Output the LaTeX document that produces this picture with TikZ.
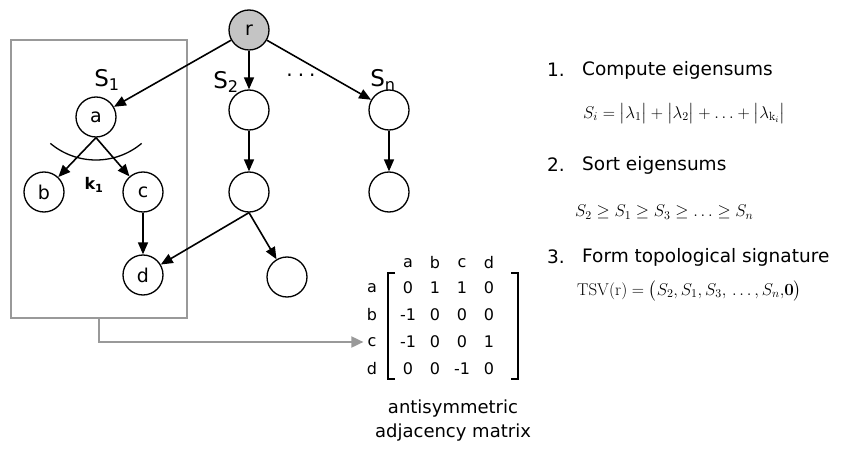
\RequirePackage{fix-cm}
\documentclass[tikz,border=0pt]{standalone}
\usepackage{amsmath, amssymb}
\usepackage[no-math]{fontspec}
\setmainfont{DejaVu Sans}
\usepackage{xcolor}
\usepackage{tikz}
\usetikzlibrary{positioning, arrows.meta}

\definecolor{boxgray}{HTML}{999999}
\definecolor{rootgray}{HTML}{C4C4C4}

\begin{document}
\begin{tikzpicture}[x=1pt,y=-1pt,node distance=82pt,on grid,
    >={Triangle[length=12pt,width=10pt]},
    vertex/.style={circle,draw,line width=1.3pt,minimum size=40pt,inner sep=0pt,
      font=\fontsize{19}{19}\selectfont},
    edge/.style={->,line width=1.6pt},
    sublabel/.style={font=\fontsize{23}{23}\selectfont},
    mtext/.style={font=\fontsize{16}{16}\selectfont,inner sep=0pt},
    steptext/.style={anchor=west,inner sep=0pt,font=\fontsize{18.5}{18.5}\selectfont},
    formula/.style={anchor=west,inner sep=0pt,font=\fontsize{17}{17}\selectfont}]
  \useasboundingbox (0,0) rectangle (846,449);

  % subtree box
  \node[draw=boxgray,line width=1.8pt,minimum width=176pt,minimum height=278pt,inner sep=0pt] (box) at (99,179) {};

  % tree
  \node[vertex,fill=rootgray] (r) at (249,30) {r};
  \node[vertex] (a) at (96,117) {a};
  \node[vertex] (b) at (44,192) {b};
  \node[vertex] (c) at (143,192) {c};
  \node[vertex] (d) [below=83pt of c] {d};
  \node[vertex] (u1) at (249,110) {};
  \node[vertex] (u2) [below=of u1] {};
  \node[vertex] (u3) at (287,277) {};
  \node[vertex] (v1) at (389,110) {};
  \node[vertex] (v2) [below=of v1] {};

  \node[sublabel] (s1) at (107,80) {S\textsubscript{1}};
  \node[sublabel] (s2) at (226,82) {S\textsubscript{2}};
  \node[sublabel] (sn) at (383,80) {S\textsubscript{n}};
  \node[font=\fontsize{20}{20}\selectfont] (dots) at (301,75) {.\hspace{5pt}.\hspace{5pt}.};
  \node[font=\fontsize{16}{16}\selectfont] (k1) at (94,185) {\textbf{k\textsubscript{1}}};

  \path[edge]
    (r) edge (a)
    (r) edge (u1)
    (r) edge (v1)
    (a.south) edge (b)
    (a.south) edge (c)
    (c) edge (d)
    (u1) edge (u2)
    (u2.south) edge (d)
    (u2.south) edge (u3)
    (v1) edge (v2);

  % eigenvalue arc
  \draw[line width=1.3pt] ([yshift=28pt]a.center) ++(130:71) arc[start angle=130,end angle=50,radius=71];

  % matrix
  \foreach \lab [count=\i] in {a,b,c,d} {
    \node[mtext] (h\i) at ({381+27*\i},263) {\lab};
    \node[mtext] (l\i) at (372,{261+27*\i}) {\lab};
  }
  \foreach \row [count=\i] in {{0,1,1,0},{-1,0,0,0},{-1,0,0,1},{0,0,-1,0}} {
    \foreach \v [count=\j] in \row {
      \node[mtext] (m\i\j) at ({381+27*\j},{261+27*\i}) {\v};
    }
  }
  \draw[line width=2pt] (395,273) -- (388,273) -- (388,379) -- (395,379);
  \draw[line width=2pt] (511,273) -- (518,273) -- (518,379) -- (511,379);
  \node[font=\fontsize{18}{24}\selectfont,align=center] (cap) at (453,421) {antisymmetric\\adjacency matrix};

  \draw[boxgray,line width=1.8pt,-{Triangle[length=12pt,width=11pt]}] (box.south) |- ([xshift=-4pt]l3.west);

  % steps
  \node[steptext] (n1) at (547,70) {1.};
  \node[steptext] (t1) at (582,70) {Compute eigensums};
  \node[formula] (f1) at (583,114) {$S_i = \bigl|\lambda_1\bigr| + \bigl|\lambda_2\bigr| + \ldots + \bigl|\lambda_{\mathrm{k}_i}\bigr|$};
  \node[steptext] (n2) at (547,165) {2.};
  \node[steptext] (t2) at (582,165) {Sort eigensums};
  \node[formula] (f2) at (575,212) {$S_2 \geq S_1 \geq S_3 \geq \ldots \geq S_n$};
  \node[steptext] (n3) at (547,257) {3.};
  \node[steptext] (t3) at (582,257) {Form topological signature};
  \node[formula] (f3) at (577,291) {$\mathrm{TSV}(\mathrm{r}) = \bigl(S_2{,}\,S_1{,}\,S_3{,}\,\ldots{,}\,S_n{,}\mathbf{0}\bigr)$};
\end{tikzpicture}
\end{document}
